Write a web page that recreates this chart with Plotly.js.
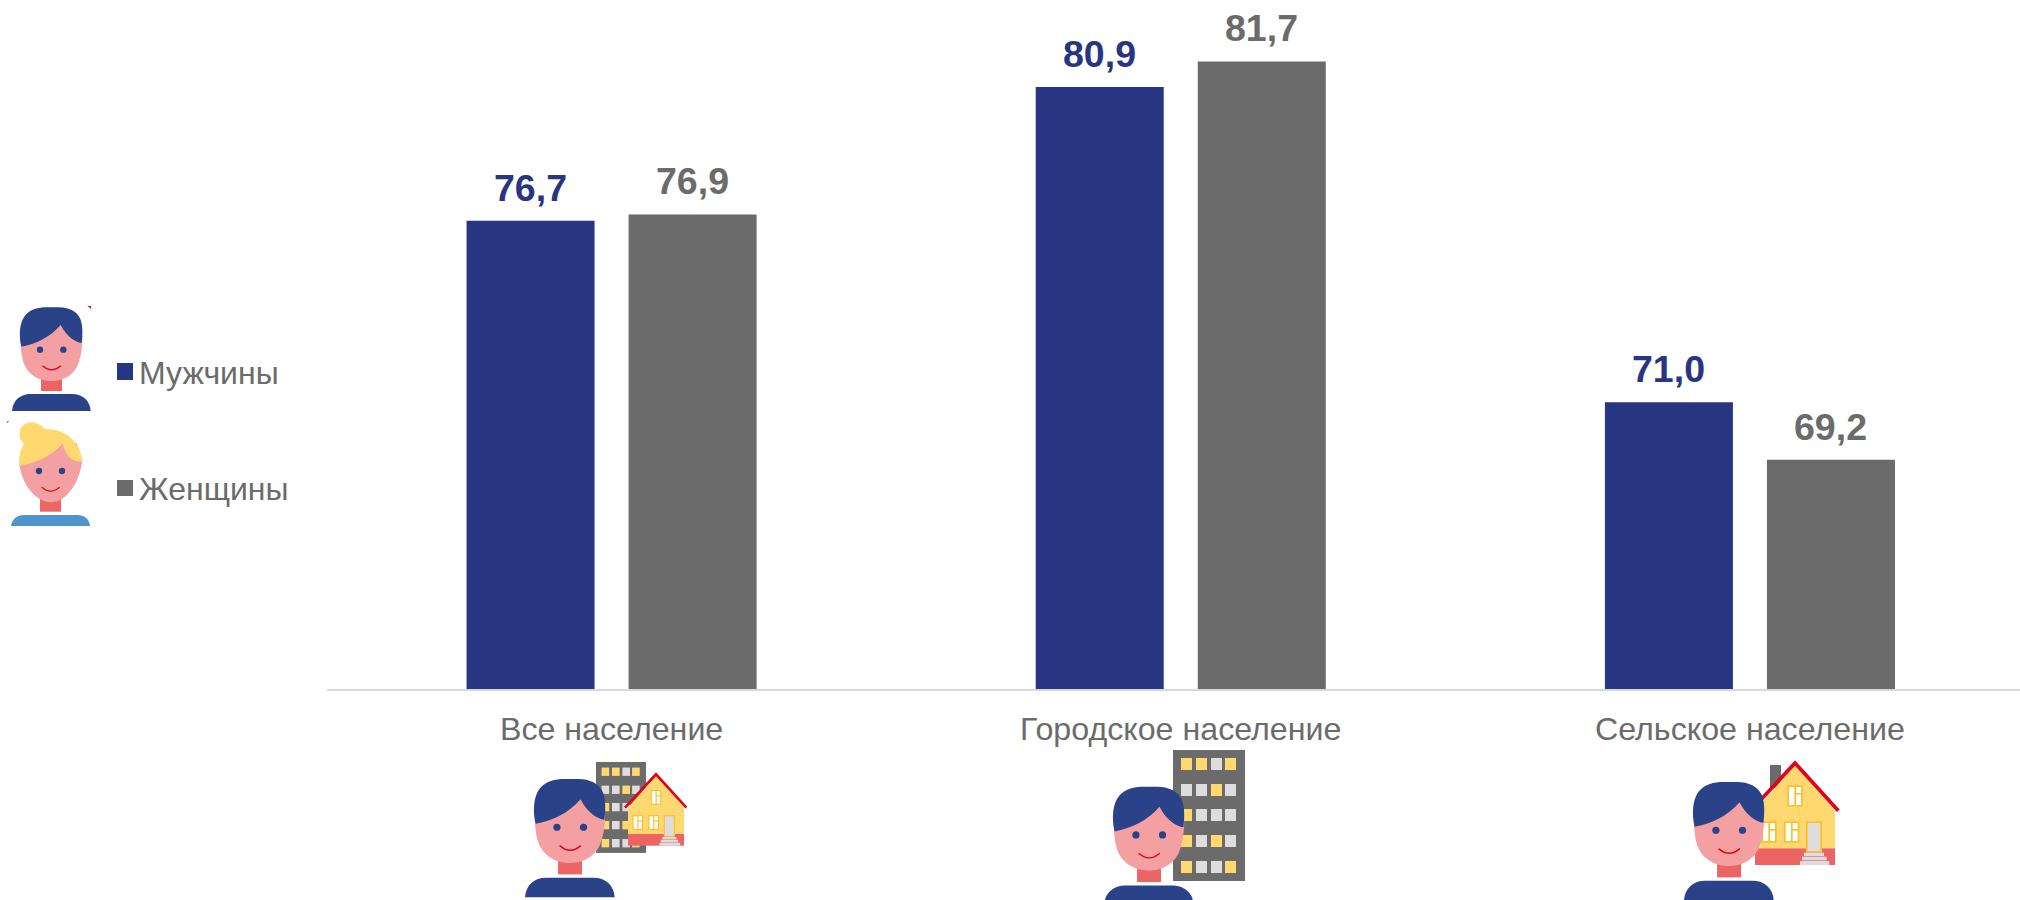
<!DOCTYPE html>
<html lang="ru">
<head>
<meta charset="utf-8">
<title>Население</title>
<script src="https://cdn.plot.ly/plotly-3.0.1.min.js"></script>
<style>html,body{margin:0;padding:0;background:#fff;overflow:hidden}#chart{width:2020px;height:900px}</style>
</head>
<body>
<div id="chart"></div>
<script>
const categories = ['Все население', 'Городское население', 'Сельское население'];
const seriesNames = ['Мужчины', 'Женщины'];
const menValues = [76.7, 80.9, 71.0];
const womenValues = [76.9, 81.7, 69.2];
const seriesColors = ['#283583', '#6B6B6B'];
const textColor = '#6B6B6B';
const fontFamily = '"Liberation Sans", Arial, sans-serif';

const W = 2020, H = 900;
const px = v => v / W;
const py = v => 1 - v / H;

/* --- decorative pictograms (drawn in 3x crop units) --- */
const C = {navy:'#2A4288', skin:'#F4A0A3', neck:'#EC6464', red:'#E3001B', yel:'#FFD970', gold:'#FBBF2E', lg:'#DDDDDD', dg:'#6B6B6B', sky:'#4F94CD'};

const man = `
<path fill="${C.navy}" d="M0,311 C2,280 24,260 56,260 H180 C212,260 234,280 236,311 Z"/>
<rect x="87" y="215" width="63" height="36" fill="${C.neck}"/>
<path fill="${C.skin}" d="M26,100 C26,130 30,160 40,178 C55,208 90,221 118,221 C146,221 180,208 195,178 C206,155 211,125 211,90 L200,30 H40 Z"/>
<path fill="${C.navy}" d="M28,118 C20,85 22,45 40,24 C55,6 78,0 105,0 H140 C170,0 195,12 205,35 C213,55 212,85 209,107 C190,104 165,90 146,53 C115,90 70,110 28,118 Z"/>
<circle cx="84" cy="127" r="9.5" fill="${C.navy}"/><circle cx="154" cy="127" r="9.5" fill="${C.navy}"/>
<path fill="none" stroke="${C.red}" stroke-width="3.5" stroke-linecap="round" d="M92,176 Q119,199 146,176"/>`;

const woman = `
<path fill="${C.sky}" d="M33,708 C36,688 50,675 72,675 H232 C254,675 268,688 270,708 Z"/>
<rect x="120" y="625" width="63" height="40" fill="${C.neck}"/>
<path fill="${C.skin}" d="M58,520 C64,580 105,637 153,637 C200,637 240,575 247,510 L230,460 H80 Z"/>
<path fill="${C.yel}" d="M58,527 C56,500 60,480 72,462 C58,450 54,430 64,412 C78,392 112,390 135,418 C195,412 245,460 247,516 C215,517 195,495 188,460 C160,495 110,520 58,527 Z"/>
<circle cx="117" cy="543" r="9.5" fill="${C.navy}"/><circle cx="186" cy="543" r="9.5" fill="${C.navy}"/>
<path fill="none" stroke="${C.red}" stroke-width="3.5" stroke-linecap="round" d="M126,592 Q151,615 178,592"/>`;

const windowRows = ['yygy', 'ggyg', 'yggg', 'ygyg', 'yggy'];
const building = (() => {
  const xs = [393, 438, 483, 525], ys = [234, 312, 387, 465, 543];
  let s = `<rect x="369" y="210" width="216" height="393" fill="${C.dg}"/>`;
  windowRows.forEach((r, i) => [...r].forEach((c, j) => {
    s += `<rect x="${xs[j]}" y="${ys[i]}" width="33" height="36" fill="${c === 'y' ? C.yel : C.lg}"/>`;
  }));
  return s;
})();

const houseWindow = (x, y) => `<rect x="${x}" y="${y}" width="46" height="64" fill="${C.gold}"/>
<rect x="${x+5}" y="${y+5}" width="16" height="54" fill="#fff"/>
<rect x="${x+26}" y="${y+5}" width="15" height="18" fill="#fff"/>
<rect x="${x+26}" y="${y+28}" width="15" height="31" fill="#fff"/>`;

const house = chimney => `
${chimney ? `<rect x="450" y="255" width="33" height="70" fill="${C.dg}"/>` : ''}
<path fill="${C.yel}" d="M405,392 L525,255 L645,392 V505 H405 Z"/>
<rect x="405" y="505" width="240" height="50" fill="${C.neck}"/>
<path fill="none" stroke="${C.red}" stroke-width="11" d="M392,392 L525,249 L655,392"/>
${houseWindow(502, 316)}${houseWindow(424, 424)}${houseWindow(492, 424)}
<rect x="558" y="424" width="48" height="94" fill="${C.gold}"/>
<rect x="563" y="429" width="38" height="84" fill="${C.lg}"/>
<rect x="552" y="518" width="60" height="10" fill="${C.lg}"/>
<rect x="546" y="530" width="74" height="11" fill="${C.lg}"/>
<rect x="540" y="543" width="88" height="12" fill="${C.lg}"/>`;

const wrap = (vw, vh, inner) => 'data:image/svg+xml;base64,' + btoa(
  `<svg xmlns="http://www.w3.org/2000/svg" width="${vw}" height="${vh}" viewBox="0 0 ${vw} ${vh}">${inner}</svg>`);

const placeMan = (x, y, s) => `<g transform="translate(${x},${y}) scale(${s})">${man}</g>`;
const sx = 0.694;
const allIcon = `<g transform="translate(${348-369*sx},${246-210*sx}) scale(${sx})">${building}</g>
<g transform="translate(${528-525*0.7},${280-245*0.7}) scale(0.7)">${house(false)}</g>${placeMan(135,297,1.14)}`;
const cityIcon = building + placeMan(162, 320, 1.14);
const ruralIcon = house(true) + placeMan(192, 306, 1.14);
const legendIcon = placeMan(36, 52, 1) + woman +
  `<path d="M262,48 L273,48 L273,56 Z" fill="${C.red}"/><path d="M21,394 L27,394 L22,399 Z" fill="${C.red}"/>`;

const img = (src, x, y, w, h) => ({source: src, xref:'paper', yref:'paper', x: px(x), y: py(y),
  sizex: w / W, sizey: h / H, xanchor:'left', yanchor:'top', sizing:'stretch', layer:'above'});

const images = [
  img(wrap(960, 750, legendIcon), 0, 290, 320, 250),
  img(wrap(900, 660, allIcon), 480, 680, 300, 220),
  img(wrap(900, 660, cityIcon), 1050, 680, 300, 220),
  img(wrap(900, 660, ruralIcon), 1620, 680, 300, 220)
];

/* --- legend squares + names --- */
const legendRows = [{box:[363, 380], mid:372.5}, {box:[480, 496], mid:489}];
const shapes = legendRows.map((r, i) => ({type:'rect', xref:'paper', yref:'paper',
  x0:px(117), x1:px(133), y0:py(r.box[1]), y1:py(r.box[0]), fillcolor:seriesColors[i], line:{width:0}}));

const annotations = legendRows.map((r, i) => ({xref:'paper', yref:'paper', x:px(139), y:py(r.mid),
  xanchor:'left', yanchor:'middle', text:seriesNames[i], showarrow:false, borderpad:0, borderwidth:0,
  font:{family:fontFamily, size:32, color:textColor}}));

/* --- value labels --- */
const fmt = v => v.toFixed(1).replace('.', ',');
[menValues, womenValues].forEach((vals, s) => vals.forEach((v, i) => annotations.push({
  xref:'x', yref:'y', x:categories[i], y:v, xanchor:'center', yanchor:'bottom',
  xshift: s === 0 ? -81 : 81, yshift: 12, text:fmt(v), showarrow:false, borderpad:0, borderwidth:0,
  font:{family:fontFamily, size:37.5, color:seriesColors[s], weight:700}
})));

const traces = [menValues, womenValues].map((vals, s) => ({
  type:'bar', name:seriesNames[s], x:categories, y:vals,
  marker:{color:seriesColors[s], line:{width:0}}, hoverinfo:'x+y+name'
}));

const layout = {
  width:W, height:H,
  margin:{l:0, r:0, t:0, b:0, pad:0},
  paper_bgcolor:'#fff', plot_bgcolor:'#fff',
  showlegend:false,
  barmode:'group', bargap:0.4306, bargroupgap:0.21,
  xaxis:{type:'category', domain:[327/W, 1], range:[-0.5, 2.4745], anchor:'y', showgrid:false, zeroline:false,
    showline:true, linecolor:'#D9D9D9', linewidth:2, ticks:'', automargin:false, ticklabelstandoff:10,
    tickfont:{family:fontFamily, size:32.2, color:textColor}},
  yaxis:{domain:[211/H, 1], range:[62, 83.63], showgrid:false, zeroline:false, showline:false, showticklabels:false, ticks:'', automargin:false},
  shapes, annotations, images
};

Plotly.newPlot('chart', traces, layout, {displayModeBar:false, responsive:false});
</script>
</body>
</html>
